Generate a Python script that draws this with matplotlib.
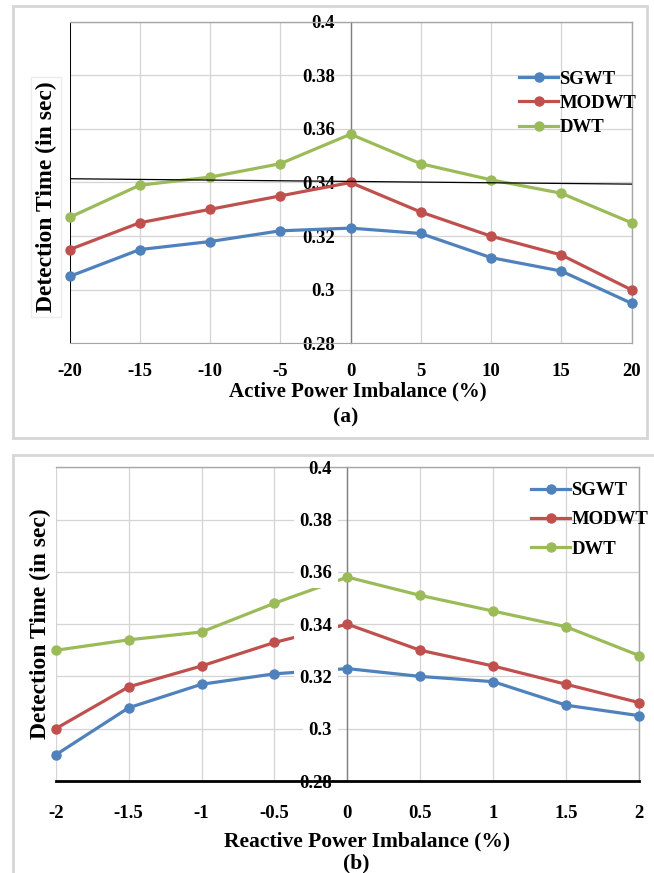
import matplotlib
matplotlib.use('Agg')
import matplotlib.pyplot as plt
from matplotlib.patches import Rectangle

plt.rcParams['font.family'] = ['Liberation Serif', 'DejaVu Serif']
plt.rcParams['font.weight'] = 'bold'

series_names = ['SGWT', 'MODWT', 'DWT']
colors = ['#4F81BD', '#C0504D', '#9BBB59']

# Panel (a): active power imbalance
x_active = [-20, -15, -10, -5, 0, 5, 10, 15, 20]
sgwt_active = [0.305, 0.315, 0.318, 0.322, 0.323, 0.321, 0.312, 0.307, 0.295]
modwt_active = [0.315, 0.325, 0.330, 0.335, 0.340, 0.329, 0.320, 0.313, 0.300]
dwt_active = [0.327, 0.339, 0.342, 0.347, 0.358, 0.347, 0.341, 0.336, 0.325]
thin_line_x = [-20, 20]
thin_line_y = [0.3414, 0.3394]

# Panel (b): reactive power imbalance
x_reactive = [-2, -1.5, -1, -0.5, 0, 0.5, 1, 1.5, 2]
sgwt_reactive = [0.290, 0.308, 0.317, 0.321, 0.323, 0.320, 0.318, 0.309, 0.305]
modwt_reactive = [0.300, 0.316, 0.324, 0.333, 0.340, 0.330, 0.324, 0.317, 0.310]
dwt_reactive = [0.330, 0.334, 0.337, 0.348, 0.358, 0.351, 0.345, 0.339, 0.328]

yticks = [0.28, 0.30, 0.32, 0.34, 0.36, 0.38, 0.40]
ytick_labels = ['0.28', '0.3', '0.32', '0.34', '0.36', '0.38', '0.4']
xtick_labels_a = ['-20', '-15', '-10', '-5', '0', '5', '10', '15', '20']
xtick_labels_b = ['-2', '-1.5', '-1', '-0.5', '0', '0.5', '1', '1.5', '2']

W, H = 654, 873
fig = plt.figure(figsize=(W / 100, H / 100), dpi=100)

def fx(px):
    return px / W

def fy(py):
    return 1 - py / H

# panel frames
fig.add_artist(Rectangle((fx(12.5), fy(438)), fx(647) - fx(12.5), fy(6) - fy(438),
                         transform=fig.transFigure, fill=False, edgecolor='#d6d6d6', lw=2))
fig.add_artist(Rectangle((fx(12.5), fy(890)), fx(670) - fx(12.5), fy(455) - fy(890),
                         transform=fig.transFigure, fill=False, edgecolor='#d6d6d6', lw=2))

def setup(ax, xs, xlabels, xpad):
    ax.set_xlim(xs[0], xs[-1])
    ax.set_ylim(yticks[0], yticks[-1])
    ax.set_xticks(xs)
    ax.set_xticklabels(xlabels)
    ax.set_yticks(yticks)
    ax.set_yticklabels(ytick_labels)
    ax.grid(True, color='#d4d4d4', lw=0.9)
    ax.set_axisbelow(True)
    ax.spines['left'].set_position(('data', 0))
    ax.spines['left'].set_color('#7f7f7f')
    ax.spines['left'].set_linewidth(1.0)
    for s in ['top', 'right']:
        ax.spines[s].set_color('#a6a6a6')
        ax.spines[s].set_linewidth(1.0)
    ax.tick_params(axis='both', length=0, labelsize=13.5)
    ax.tick_params(axis='x', pad=xpad)
    ax.tick_params(axis='y', pad=11)

def plot_series(ax, xs, ys_list):
    for name, ys, c in zip(series_names, ys_list, colors):
        ax.plot(xs, ys, color=c, lw=2.3, marker='o', markersize=6.5,
                label=name, clip_on=False, zorder=3)

# ---------------- Panel (a) ----------------
axa = fig.add_axes([fx(69.5), fy(343.5), fx(631.5) - fx(69.5), fy(21.5) - fy(343.5)])
setup(axa, x_active, xtick_labels_a, 14)
axa.spines['bottom'].set_color('#a6a6a6')
plot_series(axa, x_active, [sgwt_active, modwt_active, dwt_active])
axa.plot(thin_line_x, thin_line_y, color='black', lw=0.9, zorder=4)
axa.axvline(axa.get_xlim()[0], color='black', lw=1.4, zorder=2)
axa.legend(loc='upper left', bbox_to_anchor=(0.80, 0.848), frameon=False,
           prop={'size': 13.5, 'weight': 'bold'}, handlelength=2.1,
           handletextpad=0.05, labelspacing=0.38, borderpad=0, borderaxespad=0)

fig.text(fx(46), fy(197), 'Detection Time (in sec)', rotation=90, ha='center', va='center',
         fontsize=17, fontweight='bold',
         bbox=dict(facecolor='white', edgecolor='#ececec', pad=3))
fig.text(fx(358), fy(391), 'Active Power Imbalance (%)', ha='center', va='center',
         fontsize=15, fontweight='bold')
fig.text(fx(346), fy(417), '(a)', ha='center', va='center', fontsize=15.5, fontweight='bold')

# ---------------- Panel (b) ----------------
axb = fig.add_axes([fx(55.7), fy(781), fx(639) - fx(55.7), fy(467.3) - fy(781)])
setup(axb, x_reactive, xtick_labels_b, 17)
axb.spines['bottom'].set_color('black')
axb.spines['bottom'].set_linewidth(2.0)
axb.tick_params(axis='y', labelleft=False)
plot_series(axb, x_reactive, [sgwt_reactive, modwt_reactive, dwt_reactive])
axb.legend(loc='upper left', bbox_to_anchor=(0.815, 0.953), frameon=False,
           prop={'size': 13.5, 'weight': 'bold'}, handlelength=2.1,
           handletextpad=0.05, labelspacing=0.65, borderpad=0, borderaxespad=0)

# overlay axis carrying the y tick labels (drawn above the lines, with white boxes)
axb_lbl = fig.add_axes(axb.get_position(), sharex=axb, sharey=axb, zorder=axb.get_zorder() + 1)
axb_lbl.patch.set_visible(False)
for s in axb_lbl.spines.values():
    s.set_visible(False)
axb_lbl.spines['left'].set_position(('data', 0))
axb_lbl.tick_params(axis='x', labelbottom=False, length=0)
axb_lbl.tick_params(axis='y', length=0, labelsize=13.5, pad=11)
axb_lbl.set_yticks(yticks)
axb_lbl.set_yticklabels(ytick_labels)
labels_b = axb_lbl.get_yticklabels()
for t in labels_b[1:-1]:
    t.set_bbox(dict(facecolor='white', edgecolor='none', pad=4))

fig.text(fx(40), fy(624), 'Detection Time (in sec)', rotation=90, ha='center', va='center',
         fontsize=17, fontweight='bold')
fig.text(fx(367), fy(841), 'Reactive Power Imbalance (%)', ha='center', va='center',
         fontsize=15.5, fontweight='bold')
fig.text(fx(356), fy(863), '(b)', ha='center', va='center', fontsize=15.5, fontweight='bold')

fig.savefig('out.png', dpi=100, facecolor='white')
